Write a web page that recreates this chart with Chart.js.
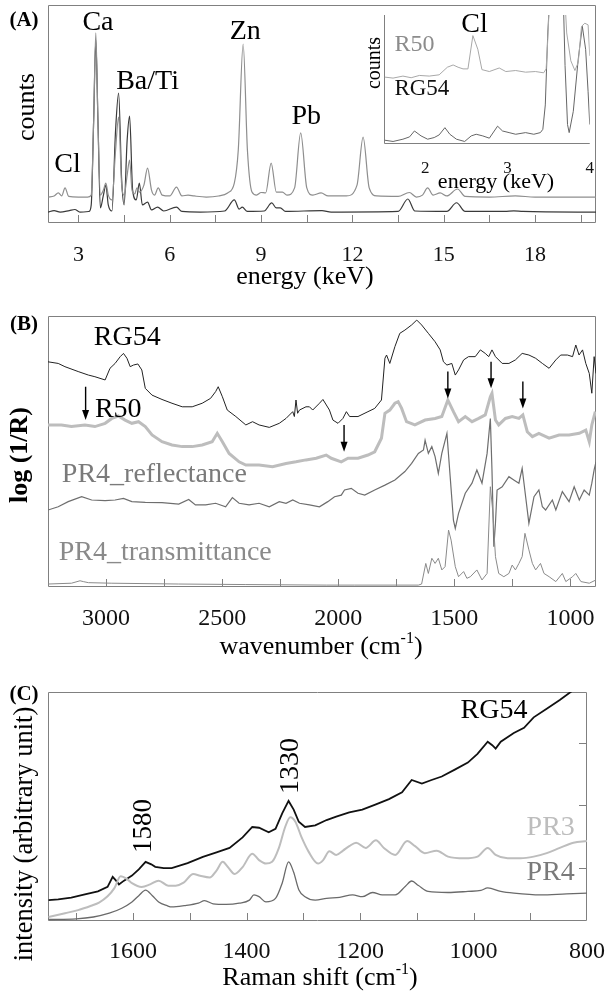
<!DOCTYPE html>
<html>
<head>
<meta charset="utf-8">
<script src="https://cdn.jsdelivr.net/npm/chart.js@4.4.1/dist/chart.umd.min.js"></script>
<style>
  body { margin: 0; background: #fff; width: 613px; height: 993px; position: relative; overflow: hidden; }
  canvas { position: absolute; }
</style>
</head>
<body>
<canvas id="chart-xrf" width="613" height="300" style="left:0;top:0"></canvas>
<canvas id="chart-xrf-inset" width="245" height="200" style="left:355px;top:5px"></canvas>
<canvas id="chart-ir" width="613" height="365" style="left:0;top:300px"></canvas>
<canvas id="chart-raman" width="613" height="328" style="left:0;top:665px"></canvas>
<script>
const SERIF = "'Liberation Serif', 'Times New Roman', serif";

// (A) XRF spectra, energy in keV, counts in arbitrary units (0-100 full scale)
const xrfR50Kev = [2.0,2.2,2.34,2.45,2.56,2.68,3.0,3.3,3.42,3.5,3.57,3.64,3.72,3.82,3.9,3.98,4.1,4.22,4.32,4.42,4.5,4.6,4.68,4.76,4.85,4.92,5.0,5.15,5.27,5.4,5.5,5.62,5.75,6.0,6.22,6.4,6.6,6.8,7.2,7.6,7.9,8.12,8.25,8.41,8.55,8.7,8.85,9.0,9.15,9.33,9.5,9.7,9.85,10.1,10.3,10.5,10.7,10.97,11.2,11.8,12.15,12.35,12.55,12.8,13.5,13.87,14.1,14.3,14.47,14.65,14.88,15.1,15.45,15.7,16.5,17.35,18,19,20];
const xrfR50Counts = [11.9,12.4,13.8,12.4,16.1,12.2,11.9,11.9,12.8,47.2,87.2,47.2,12.8,15.1,18.3,12.8,10.6,33.5,48.6,17.4,12.8,22,28.9,15.1,13.3,16.1,14.2,17.4,25.2,15.1,12.8,16.1,12.8,12.4,16.5,12.4,12.8,12.4,11.9,12.4,13.8,18.3,33.5,82.1,33.5,14.2,12.8,14.0,13.8,27.5,14.2,14.2,12.8,16.1,41.3,16.1,12.8,13.8,12.4,12.4,17.4,39.4,16.1,12.4,12.2,14.0,11.9,12.8,16.1,12.8,13.8,12.4,15.6,12.2,11.9,12.4,11.9,11.9,11.9];
const xrfRG54Kev = [2.0,2.2,2.4,2.7,2.88,3.05,3.35,3.42,3.5,3.57,3.64,3.72,3.82,3.9,3.98,4.1,4.22,4.32,4.42,4.5,4.6,4.68,4.78,4.9,5.0,5.1,5.27,5.4,5.6,5.8,6.22,6.4,7.0,7.8,8.12,8.28,8.38,8.55,9.1,9.35,9.5,9.63,9.8,11.0,11.3,13.5,13.82,14.05,15.1,15.42,15.7,17.0,17.3,17.6,20];
const xrfRG54Counts = [5.0,5.7,5.0,5.7,6.2,5.0,5.3,8.3,47.2,84,47.2,6.9,12.8,17.4,8.3,5.5,42.7,59.6,19.7,8.3,38,49,15.1,10.6,18.3,8.3,9.6,6.0,7.3,5.5,7.3,5.3,5.0,5.5,10.6,6.4,7.3,5.3,5.5,9.2,6.9,6.9,5.3,5.7,5.0,5.3,11,5.5,5.3,9.3,5.3,5.3,5.6,5.3,5.0];
const xrfTickLabels = [3, 6, 9, 12, 15, 18];
const xrfTickMarks = [3, 4.5, 6, 7.5, 9, 10.5, 12, 13.5, 15, 16.5, 18, 19.5];

// (A) inset, 1.5-4 keV
const insetR50Kev = [1.51,1.61,1.73,1.83,1.93,2.05,2.17,2.27,2.34,2.4,2.46,2.52,2.58,2.64,2.69,2.78,2.9,2.98,3.1,3.22,3.34,3.44,3.47,3.49,3.51,3.7,3.72,3.77,3.82,3.86,3.9,3.94,3.98,4.0];
const insetR50Counts = [50.9,50.1,51.7,50.4,52.2,51.7,52.7,58.7,60.5,58.7,57.4,57.4,83.7,72.9,56.8,55.3,58.1,55.3,56.1,54.8,55.3,54.3,57.4,80.6,110,110,85.8,63.8,56.1,62.5,91,93.5,92.2,67.7];
const insetRG54Kev = [1.51,1.61,1.73,1.81,1.87,1.95,2.03,2.11,2.17,2.24,2.3,2.38,2.48,2.56,2.62,2.7,2.78,2.88,2.94,3.02,3.1,3.22,3.32,3.4,3.43,3.46,3.49,3.51,3.68,3.7,3.73,3.75,3.8,3.86,3.91,3.95,3.98,4.0];
const insetRG54Counts = [1.0,0,1.8,3.6,8.3,4.4,1.8,3.1,5.2,10.9,5.7,1.8,0,4.4,5.7,4.4,2.6,12.1,8.3,7.0,5.7,7.0,5.7,7.0,9.6,28.9,85.8,110,110,60,13.4,7.0,23.8,65.1,91,72.9,39.3,13.4];
const insetTickLabels = [2, 3, 4];

// (B) IR spectra, wavenumber in cm-1, log(1/R) offset traces (0-100)
const irRG54Wn = [3250,3206,3177,3120,3076,3048,3004,2983,2961,2939,2925,2910,2896,2882,2863,2846,2831,2802,2759,2716,2672,2629,2586,2550,2528,2517,2499,2478,2441,2398,2369,2341,2297,2254,2225,2196,2189,2182,2175,2167,2139,2124,2110,2081,2066,2038,2023,2001,1980,1965,1951,1915,1872,1843,1814,1799,1792,1778,1756,1735,1713,1684,1662,1641,1612,1583,1561,1547,1532,1511,1496,1482,1460,1439,1410,1388,1367,1352,1338,1323,1294,1265,1237,1208,1179,1150,1121,1092,1063,1042,1013,991,977,963,948,934,919,908,898,890];
const irRG54Val = [83.1,82.5,81.3,79.5,78.2,77.6,76.4,80.7,82.5,85.0,86.2,84.4,81.3,81.9,82.3,80.1,73.3,70.8,69.2,67.8,66.5,66.5,67.8,69.6,72.1,73.9,70.2,65.3,62.9,59.8,61.0,59.8,58.9,60.4,62.2,64.7,62.9,69.0,64.1,65.3,66.5,66.5,65.3,67.8,69.2,65.3,61.6,60.4,62.2,64.7,62.9,62.9,64.7,65.9,69.0,84.4,85.6,82.5,88.7,93.6,94.8,96.7,98.5,96.7,93.6,90.5,87.5,83.1,81.9,82.5,78.2,80.1,83.8,85.0,85.0,87.5,86.2,85.0,87.5,85.0,82.5,82.5,83.8,86.2,85.6,84.4,82.5,80.7,83.8,85.6,85.6,85.0,89.3,85.6,87.5,82.5,78.8,71.5,85.0,78.8];
const irR50Wn = [3250,3192,3149,3091,3048,3004,2975,2947,2918,2889,2860,2831,2802,2759,2716,2672,2629,2586,2543,2521,2499,2470,2427,2398,2341,2283,2225,2182,2139,2095,2052,2030,1987,1958,1915,1872,1843,1814,1799,1778,1756,1742,1727,1706,1670,1626,1583,1554,1528,1504,1482,1453,1424,1395,1367,1345,1338,1323,1309,1280,1251,1222,1205,1186,1164,1136,1092,1049,1006,962,934,919,908,893];
const irR50Val = [59.8,59.8,59.2,59.8,59.2,60.4,62.2,63.1,61.6,60.4,61.0,59.2,56.1,53.6,52.4,51.8,51.8,52.4,53.6,56.7,53.6,49.3,46.2,45.0,45.0,44.4,45.6,46.2,46.9,47.5,48.7,47.5,46.2,47.5,47.5,48.7,49.9,54.9,64.1,65.3,67.8,68.4,65.9,61.0,59.8,61.6,62.2,62.9,69.0,64.7,61.0,62.9,61.0,62.2,63.5,70.2,71.5,61.6,59.8,62.2,62.9,62.2,63.5,57.3,55.5,56.7,54.9,56.1,56.1,56.7,57.9,53.6,59.8,64.7];
const irPR4ReflWn = [3250,3206,3163,3105,3062,3004,2961,2925,2889,2831,2759,2687,2644,2615,2571,2528,2485,2456,2427,2384,2341,2297,2254,2225,2196,2167,2124,2081,2045,2016,1987,1973,1944,1915,1886,1843,1799,1756,1713,1684,1655,1633,1626,1612,1597,1583,1569,1554,1532,1518,1504,1496,1482,1453,1424,1403,1381,1359,1345,1338,1330,1323,1316,1294,1265,1244,1222,1208,1193,1179,1157,1136,1121,1107,1078,1063,1035,1006,984,962,941,919,908,898,890];
const irPR4ReflVal = [28.4,29.6,31.5,33.3,32.1,31.9,32.1,32.7,31.5,31.2,31.1,30.6,32.3,30.3,30.3,30.9,29.6,33.0,30.9,30.3,30.9,29.6,31.5,30.9,32.1,30.9,30.3,29.6,31.5,33.3,33.9,35.8,36.4,34.6,33.9,35.8,37.6,39.5,42.6,45.6,49.3,50.6,54.2,49.3,51.8,48.1,41.9,49.3,56.7,40.7,24.7,21.6,27.2,34.6,38.3,43.2,38.3,49.3,62.2,43.2,14.9,23.5,35.8,37.0,40.7,39.5,38.3,43.8,33.3,23.5,33.3,35.8,29.6,28.4,32.1,28.4,35.2,31.5,37.0,32.1,35.8,33.9,38.3,43.2,46.2];
const irPR4TransWn = [3250,3149,3112,3098,3076,2975,2687,2398,2052,1929,1655,1641,1623,1612,1597,1583,1569,1554,1540,1525,1514,1496,1482,1460,1446,1431,1403,1381,1359,1345,1335,1323,1309,1287,1265,1251,1237,1222,1208,1196,1179,1164,1150,1129,1114,1092,1063,1035,1020,991,977,955,919,890];
const irPR4TransVal = [1.1,1.4,2.3,2.0,1.6,1.4,1.1,0.9,0.7,0.7,0.7,1.1,8.7,5.0,10.6,8.7,10.6,6.3,7.5,21.0,17.3,7.5,3.8,5.7,3.2,3.8,6.3,2.6,5.0,37.0,28.4,11.2,5.0,3.8,5.0,8.1,6.3,8.7,11.2,19.8,13.7,8.7,6.3,8.7,5.0,3.8,2.0,5.0,2.0,3.8,5.0,2.0,1.4,2.6];
// arrows: [wavenumber, tail, tip]
const irArrows = [[3088, 73.9, 61.6], [1975, 59.8, 49.9], [1528, 79.5, 69.6], [1342, 83.1, 73.3], [1205, 75.8, 65.9]];
const irTickLabels = [3000, 2500, 2000, 1500, 1000];
const irTickMarks = [3000, 2750, 2500, 2250, 2000, 1750, 1500, 1250, 1000];

// (C) Raman spectra, shift in cm-1
const ramanRG54Shift = [1749,1732,1709,1685,1662,1645,1636,1630,1625,1616,1602,1590,1578,1568,1561,1546,1532,1504,1477,1453,1430,1407,1390,1378,1361,1349,1337,1326,1317,1308,1297,1279,1259,1242,1219,1196,1172,1149,1126,1109,1091,1074,1056,1033,1010,993,975,967,961,952,929,911,894,871,848,827,810];
const ramanRG54Int = [0.49,0.5,0.53,0.58,0.63,0.7,0.86,0.8,0.74,0.8,0.88,0.98,1.1,1.06,1.02,1.0,1.0,1.08,1.18,1.25,1.322,1.489,1.656,1.644,1.572,1.628,1.878,2.072,1.933,1.739,1.656,1.683,1.767,1.822,1.889,1.933,2.017,2.1,2.211,2.406,2.35,2.406,2.461,2.572,2.683,2.822,3.017,2.961,2.906,3.017,3.156,3.239,3.406,3.544,3.683,3.822,3.95];
const ramanPR3Shift = [1749,1720,1697,1674,1660,1645,1633,1622,1610,1602,1585,1570,1555,1538,1525,1511,1494,1482,1465,1453,1442,1433,1421,1407,1390,1378,1366,1355,1343,1332,1323,1314,1303,1291,1274,1265,1254,1242,1230,1219,1207,1190,1172,1158,1138,1117,1103,1086,1065,1045,1016,993,975,961,940,917,894,871,848,824,800];
const ramanPR3Int = [0.22,0.28,0.33,0.4,0.45,0.55,0.68,0.87,0.82,0.76,0.7,0.74,0.8,0.72,0.72,0.767,0.906,0.878,0.85,0.961,1.1,1.017,0.906,1.017,1.228,1.128,1.072,1.1,1.322,1.656,1.811,1.739,1.489,1.267,1.072,1.128,1.267,1.211,1.28,1.35,1.406,1.322,1.444,1.322,1.211,1.433,1.35,1.239,1.278,1.183,1.156,1.183,1.322,1.211,1.156,1.156,1.183,1.239,1.322,1.406,1.433];
const ramanPR4Shift = [1749,1700,1670,1642,1620,1602,1590,1578,1566,1555,1540,1532,1510,1485,1474,1459,1436,1413,1395,1387,1378,1366,1349,1337,1326,1317,1308,1297,1279,1259,1236,1213,1196,1178,1161,1138,1120,1109,1097,1080,1045,1010,987,975,952,929,882,836,800];
const ramanPR4Int = [0.18,0.19,0.22,0.28,0.36,0.46,0.56,0.65,0.56,0.46,0.4,0.38,0.4,0.44,0.48,0.43,0.42,0.44,0.489,0.572,0.544,0.461,0.517,0.767,1.1,0.933,0.656,0.544,0.489,0.517,0.533,0.572,0.544,0.611,0.572,0.572,0.711,0.794,0.722,0.628,0.611,0.628,0.644,0.683,0.628,0.6,0.572,0.589,0.6];
const ramanTickLabels = [1600, 1400, 1200, 1000, 800];
const ramanTickMarks = [1700, 1600, 1500, 1400, 1300, 1200, 1100, 1000, 900];
const ramanRightTicks = [1, 2, 3];

const pts = (xs, ys) => xs.map((x, i) => ({ x, y: ys[i] }));

function trace(data, color, width, smooth) {
    return {
        data, borderColor: color, borderWidth: width, pointRadius: 0, fill: false,
        tension: 0, cubicInterpolationMode: smooth ? 'monotone' : 'default'
    };
}

// text with optional superscript pieces, drawn around (0,0)
function drawRich(ctx, parts, size, weight, align) {
    const w = weight || 'normal';
    const fontOf = p => `${w} ${p.sup ? Math.round(size * 0.62) : size}px ${SERIF}`;
    const widths = parts.map(p => { ctx.font = fontOf(p); return ctx.measureText(p.s).width; });
    const total = widths.reduce((a, b) => a + b, 0);
    let x = align === 'left' ? 0 : align === 'right' ? -total : -total / 2;
    ctx.textAlign = 'left';
    parts.forEach((p, i) => {
        ctx.font = fontOf(p);
        ctx.fillText(p.s, x, p.sup ? -size * 0.32 : 0);
        x += widths[i];
    });
}

// frame, inward ticks, arrows and labels
const decor = {
    id: 'decor',
    beforeDatasetsDraw(chart, args, o) {
        const { ctx, chartArea: a } = chart;
        const xs = chart.scales.x, ys = chart.scales.y;
        ctx.save();
        ctx.strokeStyle = '#808080';
        ctx.lineWidth = 1;
        ctx.beginPath();
        if (o.frame === 'box') {
            ctx.rect(a.left + 0.5, a.top + 0.5, a.width - 1, a.height - 1);
        } else {
            ctx.moveTo(a.left + 0.5, a.top);
            ctx.lineTo(a.left + 0.5, a.bottom - 0.5);
            ctx.lineTo(a.right, a.bottom - 0.5);
        }
        (o.xMarks || []).forEach(v => {
            const p = Math.round(xs.getPixelForValue(v)) + 0.5;
            ctx.moveTo(p, a.bottom); ctx.lineTo(p, a.bottom - 8);
        });
        (o.yMarksRight || []).forEach(v => {
            const p = Math.round(ys.getPixelForValue(v)) + 0.5;
            ctx.moveTo(a.right, p); ctx.lineTo(a.right - 8, p);
        });
        ctx.stroke();
        ctx.restore();
    },
    afterDatasetsDraw(chart, args, o) {
        const { ctx } = chart;
        const xs = chart.scales.x, ys = chart.scales.y;
        ctx.save();
        ctx.strokeStyle = '#000';
        ctx.fillStyle = '#000';
        ctx.lineWidth = 1.4;
        (o.arrows || []).forEach(([w, from, to]) => {
            const px = xs.getPixelForValue(w), y1 = ys.getPixelForValue(from), y2 = ys.getPixelForValue(to);
            ctx.beginPath(); ctx.moveTo(px, y1); ctx.lineTo(px, y2 - 8); ctx.stroke();
            ctx.beginPath(); ctx.moveTo(px - 3.5, y2 - 10); ctx.lineTo(px + 3.5, y2 - 10); ctx.lineTo(px, y2); ctx.closePath(); ctx.fill();
        });
        (o.texts || []).forEach(t => {
            const px = t.px !== undefined ? t.px : xs.getPixelForValue(t.x);
            const py = t.py !== undefined ? t.py : ys.getPixelForValue(t.y);
            ctx.save();
            ctx.translate(px, py);
            if (t.rot) ctx.rotate(-Math.PI / 2);
            ctx.fillStyle = t.color || '#000';
            ctx.textBaseline = 'middle';
            drawRich(ctx, t.parts || [{ s: t.s }], t.size, t.weight, t.align || 'center');
            ctx.restore();
        });
        ctx.restore();
    }
};

function spectrumChart(id, o) {
    return new Chart(document.getElementById(id), {
        type: 'line',
        data: { datasets: o.datasets },
        options: {
            responsive: false,
            animation: false,
            events: [],
            layout: { padding: o.pad },
            plugins: { legend: { display: false }, tooltip: { enabled: false }, decor: o.decor },
            scales: {
                x: {
                    type: 'linear', min: o.xMin, max: o.xMax, reverse: !!o.reverse,
                    grid: { display: false }, border: { display: false },
                    ticks: {
                        color: '#111', font: { family: SERIF, size: o.tickSize },
                        padding: o.tickPad, maxRotation: 0, minRotation: 0, autoSkip: false,
                        callback: v => String(v)
                    },
                    afterBuildTicks: s => { s.ticks = o.tickLabels.map(v => ({ value: v })); },
                    afterFit: s => { s.height = o.xHeight; }
                },
                y: { display: false, min: o.yMin, max: o.yMax }
            }
        },
        plugins: [decor]
    });
}

// (A)
spectrumChart('chart-xrf', {
    datasets: [
        trace(pts(xrfR50Kev, xrfR50Counts), '#8e8e8e', 1.2, true),
        trace(pts(xrfRG54Kev, xrfRG54Counts), '#3a3a3a', 1.2, true)
    ],
    pad: { left: 48, top: 5, right: 17, bottom: 0 }, xHeight: 77,
    xMin: 2, xMax: 20, yMin: 0, yMax: 100,
    tickLabels: xrfTickLabels, tickSize: 22, tickPad: 11,
    decor: {
        frame: 'box', xMarks: xrfTickMarks,
        texts: [
            { s: '(A)', px: 24, py: 21, size: 21, weight: 'bold' },
            { s: 'counts', px: 27, py: 107, size: 26, rot: true },
            { s: 'Ca', x: 3.64, y: 91.7, size: 28 },
            { s: 'Ba/Ti', x: 5.27, y: 64.7, size: 28 },
            { s: 'Zn', x: 8.48, y: 87.6, size: 28 },
            { s: 'Pb', x: 10.48, y: 48.6, size: 28 },
            { s: 'Cl', x: 2.64, y: 26.6, size: 28 },
            { s: 'energy (keV)', x: 10.44, py: 277, size: 26 }
        ]
    }
});

// (A) inset
spectrumChart('chart-xrf-inset', {
    datasets: [
        trace(pts(insetR50Kev, insetR50Counts), '#a8a8a8', 1, false),
        trace(pts(insetRG54Kev, insetRG54Counts), '#666666', 1, false)
    ],
    pad: { left: 29, top: 10, right: 8, bottom: 0 }, xHeight: 61,
    xMin: 1.5, xMax: 4, yMin: -2, yMax: 100,
    tickLabels: insetTickLabels, tickSize: 17, tickPad: 6,
    decor: {
        frame: 'lb',
        texts: [
            { s: 'counts', px: 20, py: 58, size: 20, rot: true },
            { s: 'R50', x: 1.87, y: 76.7, size: 24, color: '#8c8c8c' },
            { s: 'Cl', x: 2.6, y: 92, size: 28 },
            { s: 'RG54', x: 1.96, y: 41.9, size: 23, color: '#111' },
            { s: 'energy (keV)', px: 141, py: 177, size: 22 }
        ]
    }
});

// (B)
spectrumChart('chart-ir', {
    datasets: [
        trace(pts(irPR4TransWn, irPR4TransVal), '#8a8a8a', 1, false),
        trace(pts(irPR4ReflWn, irPR4ReflVal), '#6e6e6e', 1.2, false),
        trace(pts(irR50Wn, irR50Val), '#bdbdbd', 3, false),
        trace(pts(irRG54Wn, irRG54Val), '#222222', 1, false)
    ],
    pad: { left: 48, top: 16, right: 17, bottom: 0 }, xHeight: 78,
    xMin: 890, xMax: 3250, reverse: true, yMin: 0, yMax: 100,
    tickLabels: irTickLabels, tickSize: 24, tickPad: 9,
    decor: {
        frame: 'box', xMarks: irTickMarks, arrows: irArrows,
        texts: [
            { s: '(B)', px: 24, py: 25, size: 21, weight: 'bold' },
            { s: 'log (1/R)', px: 20, py: 155, size: 26, weight: 'bold', rot: true },
            { s: 'RG54', x: 2909, y: 91.9, size: 28 },
            { s: 'R50', x: 3048, y: 65.3, size: 28, align: 'left' },
            { s: 'PR4_reflectance', x: 2792, y: 41.3, size: 28, color: '#7a7a7a' },
            { s: 'PR4_transmittance', x: 2745, y: 12.5, size: 28, color: '#8a8a8a' },
            { parts: [{ s: 'wavenumber (cm' }, { s: '-1', sup: true }, { s: ')' }], px: 321, py: 347, size: 26 }
        ]
    }
});

// (C)
spectrumChart('chart-raman', {
    datasets: [
        trace(pts(ramanPR3Shift, ramanPR3Int), '#bdbdbd', 2, true),
        trace(pts(ramanPR4Shift, ramanPR4Int), '#6a6a6a', 1.3, true),
        trace(pts(ramanRG54Shift, ramanRG54Int), '#111111', 1.8, false)
    ],
    pad: { left: 48, top: 27, right: 18, bottom: 0 }, xHeight: 72,
    xMin: 800, xMax: 1750, reverse: true, yMin: 0.156, yMax: 3.81,
    tickLabels: ramanTickLabels, tickSize: 24, tickPad: 8,
    decor: {
        frame: 'box', xMarks: ramanTickMarks, yMarksRight: ramanRightTicks,
        texts: [
            { s: '(C)', px: 24, py: 30, size: 21, weight: 'bold' },
            { s: 'intensity (arbitrary unit)', px: 25, py: 169, size: 26.5, rot: true },
            { s: 'RG54', x: 964, y: 3.52, size: 28 },
            { s: 'PR3', x: 864, y: 1.65, size: 28, color: '#bdbdbd' },
            { s: 'PR4', x: 864, y: 0.93, size: 28, color: '#7a7a7a' },
            { s: '1580', x: 1581, y: 1.67, size: 27, rot: true },
            { s: '1330', x: 1322, y: 2.63, size: 28, rot: true },
            { parts: [{ s: 'Raman shift (cm' }, { s: '-1', sup: true }, { s: ')' }], px: 320, py: 313, size: 26 }
        ]
    }
});
</script>
</body>
</html>
